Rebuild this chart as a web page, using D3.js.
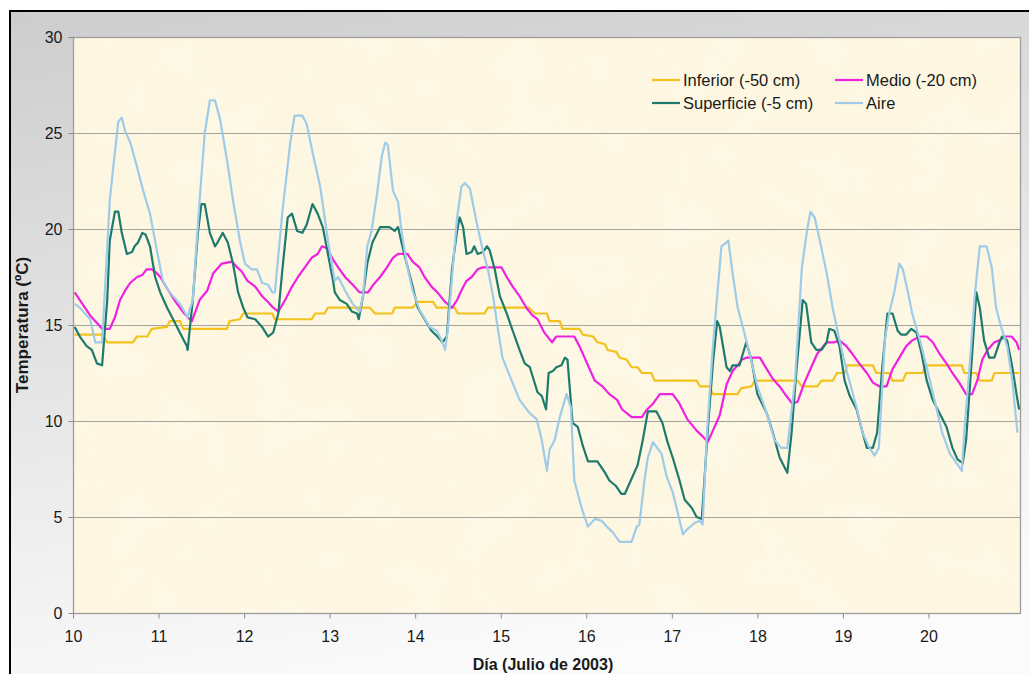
<!DOCTYPE html>
<html>
<head>
<meta charset="utf-8">
<script src="https://cdn.jsdelivr.net/npm/d3@7/dist/d3.min.js"></script>
<style>
  html, body { margin: 0; padding: 0; background: #ffffff; }
  svg { display: block; }
  text { font-family: "Liberation Sans", Arial, sans-serif; fill: #1a1a1a; }
</style>
</head>
<body>
<svg id="chart" width="1029" height="674"></svg>
<script>
// Soil and air temperature, Julio de 2003. Each series is [day, °C].
const dayTicks = [10, 11, 12, 13, 14, 15, 16, 17, 18, 19, 20];
const tempTicks = [0, 5, 10, 15, 20, 25, 30];

const inferior = [
  [10.02,14.5],[10.34,14.5],[10.40,14.1],[10.70,14.1],[10.75,14.4],[10.87,14.4],[10.92,14.8],
  [11.10,14.9],[11.13,15.2],[11.25,15.2],[11.29,14.8],[11.80,14.8],[11.83,15.2],[11.95,15.3],
  [11.99,15.6],[12.33,15.6],[12.36,15.3],[12.79,15.3],[12.83,15.6],[12.94,15.6],[12.98,15.9],
  [13.47,15.9],[13.53,15.6],[13.73,15.6],[13.76,15.9],[13.97,15.9],[14.03,16.2],[14.21,16.2],
  [14.25,15.9],[14.46,15.9],[14.50,15.6],[14.81,15.6],[14.85,15.9],[15.33,15.9],[15.40,15.6],
  [15.54,15.6],[15.57,15.2],[15.69,15.2],[15.72,14.8],[15.92,14.8],[15.96,14.5],[16.08,14.4],
  [16.13,14.1],[16.22,14.0],[16.25,13.7],[16.35,13.6],[16.39,13.3],[16.47,13.2],[16.53,12.8],
  [16.60,12.8],[16.65,12.5],[16.76,12.5],[16.80,12.1],[17.29,12.1],[17.33,11.8],[17.44,11.8],
  [17.48,11.4],[17.77,11.4],[17.81,11.7],[17.93,11.8],[17.97,12.1],[18.47,12.1],[18.52,11.8],
  [18.70,11.8],[18.75,12.1],[18.88,12.1],[18.93,12.5],[19.02,12.5],[19.05,12.9],[19.35,12.9],
  [19.39,12.5],[19.54,12.5],[19.58,12.1],[19.70,12.1],[19.74,12.5],[19.93,12.5],[19.98,12.9],
  [20.39,12.9],[20.42,12.5],[20.56,12.5],[20.60,12.1],[20.74,12.1],[20.77,12.5],[21.06,12.5]
];

const medio = [
  [10.02,16.7],[10.08,16.3],[10.14,15.9],[10.20,15.5],[10.28,15.1],[10.34,14.8],[10.43,14.8],
  [10.49,15.4],[10.55,16.3],[10.61,16.8],[10.67,17.2],[10.75,17.5],[10.81,17.6],[10.86,17.9],
  [10.92,17.9],[10.98,17.7],[11.02,17.5],[11.10,16.9],[11.20,16.2],[11.30,15.6],[11.39,15.2],
  [11.48,16.3],[11.57,16.8],[11.64,17.7],[11.74,18.2],[11.86,18.3],[11.92,18.0],[11.97,17.8],
  [12.04,17.3],[12.13,17.0],[12.21,16.5],[12.28,16.2],[12.34,15.9],[12.40,15.7],[12.48,16.3],
  [12.56,17.0],[12.63,17.5],[12.71,18.0],[12.79,18.5],[12.86,18.7],[12.91,19.1],[12.97,19.0],
  [13.04,18.4],[13.10,18.0],[13.18,17.5],[13.27,17.1],[13.35,16.7],[13.45,16.7],[13.51,17.1],
  [13.59,17.5],[13.67,18.0],[13.74,18.5],[13.80,18.7],[13.91,18.7],[13.97,18.3],[14.05,18.0],
  [14.11,17.5],[14.19,17.0],[14.26,16.7],[14.35,16.2],[14.43,15.9],[14.49,16.3],[14.54,16.8],
  [14.60,17.3],[14.66,17.5],[14.73,17.9],[14.79,18.0],[15.01,18.0],[15.07,17.5],[15.14,17.0],
  [15.22,16.5],[15.30,15.9],[15.37,15.5],[15.43,15.3],[15.51,14.6],[15.60,14.1],[15.65,14.4],
  [15.86,14.4],[15.92,13.9],[16.00,13.1],[16.10,12.1],[16.19,11.8],[16.27,11.4],[16.36,11.1],
  [16.42,10.6],[16.53,10.2],[16.65,10.2],[16.71,10.6],[16.78,10.9],[16.86,11.4],[17.01,11.4],
  [17.09,10.9],[17.18,10.1],[17.29,9.5],[17.36,9.2],[17.42,8.9],[17.48,9.5],[17.56,10.3],
  [17.64,11.9],[17.71,12.6],[17.77,12.9],[17.82,13.2],[17.87,13.3],[18.03,13.3],[18.11,12.7],
  [18.18,12.2],[18.26,11.8],[18.34,11.3],[18.41,10.9],[18.47,11.0],[18.55,12.0],[18.63,12.8],
  [18.70,13.5],[18.81,14.1],[18.90,14.1],[18.96,14.2],[19.04,13.9],[19.11,13.5],[19.19,13.0],
  [19.28,12.5],[19.35,12.0],[19.43,11.8],[19.51,11.8],[19.58,12.7],[19.66,13.3],[19.74,13.9],
  [19.81,14.2],[19.90,14.4],[19.98,14.4],[20.05,14.1],[20.13,13.5],[20.21,13.0],[20.28,12.5],
  [20.36,12.0],[20.44,11.4],[20.51,11.4],[20.57,12.1],[20.63,13.2],[20.69,13.7],[20.77,14.1],
  [20.83,14.2],[20.89,14.4],[20.97,14.4],[21.03,14.1],[21.06,13.7]
];

const superficie = [
  [10.02,14.9],[10.08,14.4],[10.16,13.9],[10.22,13.7],[10.28,13.0],[10.34,12.9],[10.40,16.3],
  [10.43,19.4],[10.49,20.9],[10.53,20.9],[10.57,19.8],[10.63,18.7],[10.69,18.8],[10.72,19.1],
  [10.76,19.3],[10.81,19.8],[10.85,19.7],[10.90,19.1],[10.96,17.5],[11.02,16.7],[11.10,15.9],
  [11.17,15.3],[11.25,14.6],[11.33,13.9],[11.34,13.7],[11.40,16.3],[11.46,19.8],[11.50,21.3],
  [11.54,21.3],[11.60,19.8],[11.66,19.1],[11.69,19.3],[11.75,19.8],[11.81,19.3],[11.87,18.2],
  [11.93,16.7],[11.99,15.9],[12.04,15.4],[12.13,15.3],[12.21,14.9],[12.28,14.4],[12.34,14.6],
  [12.40,15.6],[12.45,18.0],[12.51,20.6],[12.56,20.8],[12.62,19.9],[12.68,19.8],[12.73,20.2],
  [12.80,21.3],[12.86,20.8],[12.92,20.1],[12.98,18.7],[13.04,17.3],[13.06,16.7],[13.12,16.3],
  [13.20,16.1],[13.26,15.7],[13.32,15.6],[13.34,15.3],[13.39,16.5],[13.44,18.2],[13.50,19.3],
  [13.59,20.1],[13.70,20.1],[13.76,19.9],[13.80,20.1],[13.84,19.3],[13.90,18.2],[13.96,17.2],
  [14.03,15.9],[14.11,15.3],[14.19,14.7],[14.26,14.4],[14.32,14.1],[14.37,14.4],[14.43,17.9],
  [14.49,19.9],[14.52,20.6],[14.56,20.1],[14.60,18.7],[14.66,18.8],[14.69,19.1],[14.73,18.7],
  [14.79,18.8],[14.84,19.1],[14.87,18.9],[14.93,17.9],[14.99,16.5],[15.07,15.6],[15.14,14.7],
  [15.22,13.7],[15.28,13.0],[15.34,12.8],[15.43,11.5],[15.48,11.3],[15.53,10.6],[15.56,12.5],
  [15.61,12.6],[15.65,12.8],[15.71,12.9],[15.75,13.3],[15.78,13.2],[15.84,9.9],[15.90,9.7],
  [15.96,8.7],[16.02,7.9],[16.13,7.9],[16.22,7.3],[16.27,6.9],[16.35,6.6],[16.41,6.2],
  [16.45,6.2],[16.51,6.8],[16.60,7.7],[16.66,9.0],[16.72,10.5],[16.82,10.5],[16.89,9.9],
  [16.95,8.9],[17.01,8.1],[17.09,6.9],[17.15,5.9],[17.23,5.5],[17.29,5.0],[17.35,4.9],
  [17.42,9.5],[17.48,13.0],[17.53,15.2],[17.56,14.9],[17.64,12.8],[17.68,12.6],[17.71,12.9],
  [17.79,12.9],[17.87,14.1],[17.93,13.2],[18.00,11.4],[18.11,10.4],[18.18,9.4],[18.26,8.1],
  [18.35,7.3],[18.40,9.4],[18.46,12.8],[18.53,16.3],[18.57,16.1],[18.63,14.1],[18.69,13.7],
  [18.75,13.7],[18.81,14.1],[18.84,14.8],[18.90,14.7],[18.96,13.9],[19.02,12.1],[19.08,11.3],
  [19.16,10.6],[19.23,9.4],[19.28,8.6],[19.35,8.6],[19.40,9.4],[19.46,12.8],[19.52,15.6],
  [19.58,15.6],[19.64,14.7],[19.68,14.5],[19.74,14.5],[19.80,14.8],[19.86,14.6],[19.92,13.5],
  [19.98,12.1],[20.05,11.1],[20.13,10.4],[20.21,9.7],[20.28,8.6],[20.34,8.0],[20.40,7.8],
  [20.44,9.0],[20.50,12.8],[20.56,16.7],[20.60,15.9],[20.65,14.2],[20.71,13.3],[20.77,13.3],
  [20.83,14.1],[20.86,14.4],[20.92,14.2],[20.98,12.8],[21.04,11.1],[21.06,10.6]
];

const aire = [
  [10.02,16.1],[10.08,15.9],[10.20,15.3],[10.26,14.1],[10.34,14.1],[10.43,21.5],[10.47,23.2],
  [10.53,25.6],[10.57,25.8],[10.61,25.1],[10.67,24.5],[10.75,23.2],[10.82,22.0],[10.90,20.8],
  [10.98,18.9],[11.05,17.3],[11.13,16.7],[11.25,16.1],[11.34,15.4],[11.40,16.3],[11.48,21.5],
  [11.54,25.0],[11.60,26.7],[11.66,26.7],[11.72,25.7],[11.80,23.6],[11.87,21.5],[11.95,19.4],
  [12.01,18.2],[12.09,17.9],[12.15,17.9],[12.21,17.2],[12.28,17.1],[12.33,16.7],[12.36,16.7],
  [12.45,21.0],[12.54,24.5],[12.59,25.9],[12.68,25.9],[12.73,25.5],[12.80,24.0],[12.89,22.2],
  [12.98,19.4],[13.06,17.3],[13.10,17.5],[13.18,16.8],[13.27,16.1],[13.35,15.7],[13.39,16.5],
  [13.44,19.1],[13.49,19.9],[13.55,21.7],[13.61,23.8],[13.65,24.5],[13.68,24.4],[13.74,22.0],
  [13.80,21.4],[13.84,19.9],[13.90,18.2],[13.97,16.8],[14.05,15.8],[14.17,14.9],[14.25,14.7],
  [14.31,14.2],[14.35,13.7],[14.38,14.7],[14.43,17.5],[14.49,20.6],[14.54,22.2],[14.58,22.4],
  [14.64,22.1],[14.72,20.3],[14.79,18.9],[14.85,17.9],[14.91,16.5],[14.97,14.7],[15.02,13.3],
  [15.11,12.3],[15.22,11.1],[15.34,10.4],[15.42,10.1],[15.48,9.0],[15.54,7.4],[15.57,8.5],
  [15.63,9.0],[15.69,10.2],[15.77,11.4],[15.82,10.7],[15.86,6.9],[15.95,5.4],[16.02,4.5],
  [16.10,4.9],[16.18,4.8],[16.24,4.5],[16.31,4.2],[16.39,3.7],[16.53,3.7],[16.59,4.5],
  [16.62,4.6],[16.68,6.9],[16.72,8.1],[16.78,8.9],[16.88,8.3],[16.94,7.1],[17.01,6.3],
  [17.07,5.2],[17.13,4.1],[17.19,4.4],[17.27,4.7],[17.33,4.8],[17.36,4.6],[17.41,9.3],
  [17.48,13.9],[17.58,19.1],[17.64,19.3],[17.66,19.4],[17.71,17.7],[17.77,15.9],[17.83,14.9],
  [17.91,13.5],[18.00,11.8],[18.11,10.4],[18.20,9.0],[18.28,8.6],[18.35,8.6],[18.44,12.1],
  [18.52,18.0],[18.58,19.9],[18.62,20.9],[18.67,20.6],[18.73,19.4],[18.81,17.7],[18.88,15.9],
  [18.96,14.2],[19.05,12.5],[19.16,10.7],[19.23,9.4],[19.31,8.6],[19.37,8.2],[19.42,8.6],
  [19.49,14.2],[19.54,15.6],[19.60,16.7],[19.66,18.2],[19.70,17.9],[19.76,16.7],[19.81,15.6],
  [19.90,14.2],[19.98,12.8],[20.07,11.1],[20.16,9.4],[20.25,8.3],[20.33,7.8],[20.39,7.4],
  [20.42,9.5],[20.48,12.8],[20.54,16.5],[20.60,19.1],[20.68,19.1],[20.74,18.0],[20.79,15.9],
  [20.85,14.9],[20.92,13.9],[20.98,12.1],[21.04,9.4]
];

const seriesNames = ["Inferior (-50 cm)", "Medio (-20 cm)", "Superficie (-5 cm)", "Aire"];
const seriesColors = ["#f2c21e", "#ee22e0", "#1d7a6c", "#9fcbe9"];
const seriesData = [inferior, medio, superficie, aire];

const svg = d3.select("#chart");
const W = 1029, H = 674;
const plot = { left: 73, top: 37, right: 1020, bottom: 613 };

const defs = svg.append("defs");
const bg = defs.append("linearGradient").attr("id", "frameBg")
  .attr("x1", 0).attr("y1", 0).attr("x2", 0.25).attr("y2", 1);
bg.append("stop").attr("offset", "0%").attr("stop-color", "#cdcdcd");
bg.append("stop").attr("offset", "70%").attr("stop-color", "#eeeeee");
bg.append("stop").attr("offset", "100%").attr("stop-color", "#fbfbfb");

// soft mottled parchment texture for the plotting area
const paper = defs.append("filter").attr("id", "paper")
  .attr("x", 0).attr("y", 0).attr("width", 1).attr("height", 1);
paper.append("feTurbulence").attr("type", "fractalNoise")
  .attr("baseFrequency", "0.02").attr("numOctaves", 3).attr("seed", 7).attr("result", "n");
paper.append("feColorMatrix").attr("type", "matrix")
  .attr("values", "0 0 0 0 1  0 0 0 0 1  0 0 0 0 0.98  1.4 0 0 0 -0.6");

// outer frame
svg.append("rect").attr("x", 0).attr("y", 0).attr("width", W).attr("height", H).attr("fill", "#ffffff");
svg.append("rect").attr("x", 10).attr("y", 11).attr("width", W + 20).attr("height", H + 20)
  .attr("fill", "url(#frameBg)").attr("stroke", "#000").attr("stroke-width", 2);

const x = d3.scaleLinear().domain([10, 21.07]).range([plot.left, plot.right]);
const y = d3.scaleLinear().domain([0, 30]).range([plot.bottom, plot.top]);

// plotting area
svg.append("rect")
  .attr("x", plot.left).attr("y", plot.top)
  .attr("width", plot.right - plot.left).attr("height", plot.bottom - plot.top)
  .attr("fill", "#fdf6e0");
svg.append("rect")
  .attr("x", plot.left).attr("y", plot.top)
  .attr("width", plot.right - plot.left).attr("height", plot.bottom - plot.top)
  .attr("fill", "#fff").attr("filter", "url(#paper)").attr("opacity", 0.5);

// horizontal gridlines
svg.append("g").selectAll("line")
  .data(tempTicks.filter(t => t > 0 && t < 30))
  .join("line")
  .attr("x1", plot.left).attr("x2", plot.right)
  .attr("y1", d => Math.round(y(d)) + 0.5).attr("y2", d => Math.round(y(d)) + 0.5)
  .attr("stroke", "#a5a39e").attr("stroke-width", 1.2);

// plot border
svg.append("rect")
  .attr("x", plot.left + 0.5).attr("y", plot.top + 0.5)
  .attr("width", plot.right - plot.left).attr("height", plot.bottom - plot.top)
  .attr("fill", "none").attr("stroke", "#9d9d9d").attr("stroke-width", 1.3);

// axes
const xAxis = d3.axisBottom(x).tickValues(dayTicks).tickSize(5).tickPadding(12)
  .tickFormat(d3.format("d"));
const gx = svg.append("g").attr("transform", `translate(0,${plot.bottom + 0.5})`).call(xAxis);
gx.select(".domain").remove();
gx.selectAll(".tick line").attr("stroke", "#8c8c8c");
gx.selectAll(".tick text").attr("font-size", 16).attr("fill", "#1a1a1a")
  .attr("font-family", "Liberation Sans, Arial, sans-serif");

const yAxis = d3.axisLeft(y).tickValues(tempTicks).tickSize(5).tickPadding(6)
  .tickFormat(d3.format("d"));
const gy = svg.append("g").attr("transform", `translate(${plot.left + 0.5},0)`).call(yAxis);
gy.select(".domain").remove();
gy.selectAll(".tick line").attr("stroke", "#8c8c8c");
gy.selectAll(".tick text").attr("font-size", 16).attr("fill", "#1a1a1a")
  .attr("font-family", "Liberation Sans, Arial, sans-serif");

// series
const line = d3.line().x(d => x(d[0])).y(d => y(d[1])).curve(d3.curveLinear);
svg.append("g").selectAll("path")
  .data(seriesData)
  .join("path")
  .attr("d", line)
  .attr("fill", "none")
  .attr("stroke", (d, i) => seriesColors[i])
  .attr("stroke-width", 2.2)
  .attr("stroke-linejoin", "round");

// legend, two columns
const legendCols = [652, 835];
const legendRows = [80, 103];
const lg = svg.append("g").selectAll("g")
  .data(seriesNames)
  .join("g")
  .attr("transform", (d, i) => `translate(${legendCols[i % 2]},${legendRows[Math.floor(i / 2)]})`);
lg.append("line").attr("x1", 0).attr("x2", 28).attr("y1", 0).attr("y2", 0)
  .attr("stroke", (d, i) => seriesColors[i]).attr("stroke-width", 2.2);
lg.append("text").attr("x", 31).attr("y", 6).attr("font-size", 16.5).text(d => d);

// axis titles
svg.append("text")
  .attr("transform", "translate(28,325) rotate(-90)")
  .attr("text-anchor", "middle").attr("font-size", 17).attr("font-weight", "bold")
  .text("Temperatura (ºC)");
svg.append("text")
  .attr("x", 543).attr("y", 670)
  .attr("text-anchor", "middle").attr("font-size", 16).attr("font-weight", "bold")
  .text("Día (Julio de 2003)");
</script>
</body>
</html>
